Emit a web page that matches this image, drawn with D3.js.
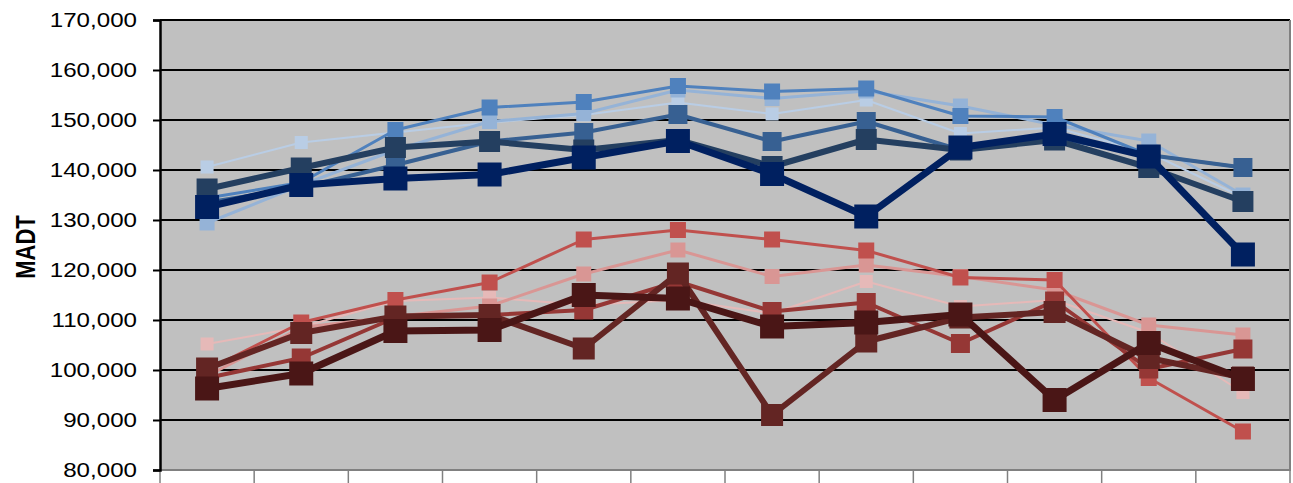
<!DOCTYPE html>
<html>
<head>
<meta charset="utf-8">
<script src="https://cdn.jsdelivr.net/npm/d3@7"></script>
<style>
  body { margin: 0; background: #fff; }
  svg { display: block; }
</style>
</head>
<body>
<div id="chart"></div>
<script>
// Categories and values
const months = ["Jan", "Feb", "Mar", "Apr", "May", "Jun", "Jul", "Aug", "Sep", "Oct", "Nov", "Dec"];
const yTicks = [80000, 90000, 100000, 110000, 120000, 130000, 140000, 150000, 160000, 170000];

const blue1 = [140600, 145500, 147500, 149500, 151000, 153500, 151200, 154000, 147300, 148500, 143500, 134500];
const blue2 = [129400, 137000, 144000, 149700, 151300, 156000, 154300, 155800, 152800, 149000, 145800, 135000];
const blue3 = [134400, 137500, 148000, 152500, 153600, 156800, 155700, 156300, 150800, 150600, 143000, 140500];
const blue4 = [133500, 136500, 141000, 145700, 147500, 151100, 145700, 149700, 144000, 146500, 143000, 140500];
const blue5 = [136200, 140400, 144500, 145700, 144000, 146000, 140700, 146100, 144000, 146000, 140500, 133700];
const blue6 = [132600, 137000, 138300, 139100, 142500, 145800, 139200, 130700, 144500, 147200, 142700, 123100];

const red1 = [105200, 108600, 113800, 114500, 113000, 114000, 111300, 117700, 112700, 114000, 107500, 95500];
const red2 = [98800, 108500, 110700, 112800, 119200, 124000, 118700, 121000, 118700, 116000, 109000, 107000];
const red3 = [100000, 109500, 114000, 117500, 126100, 128000, 126100, 123900, 118500, 118000, 98400, 87700];
const red4 = [98400, 102400, 110500, 111000, 112000, 117700, 111700, 113500, 105300, 113800, 100200, 104200];
const red5 = [100300, 107400, 110700, 111000, 104300, 119300, 91000, 105700, 110500, 111600, 102400, 98500];
const red6 = [96300, 99300, 107800, 108000, 115000, 114300, 108700, 109500, 111100, 94000, 105400, 98200];

// drawing order: light to dark, dark ones on top
const series = [
  { values: blue1, color: "#b9cde5", lw: 2, ms: 13 },
  { values: blue2, color: "#95b3d7", lw: 3, ms: 15 },
  { values: blue3, color: "#4f81bd", lw: 3, ms: 16 },
  { values: blue4, color: "#376092", lw: 4, ms: 19 },
  { values: blue5, color: "#243f60", lw: 6, ms: 21 },
  { values: blue6, color: "#002060", lw: 7, ms: 24 },
  { values: red1, color: "#e6b9b8", lw: 2, ms: 13 },
  { values: red2, color: "#d99694", lw: 3, ms: 15 },
  { values: red3, color: "#c0504d", lw: 3, ms: 16 },
  { values: red4, color: "#953735", lw: 4, ms: 19 },
  { values: red5, color: "#632523", lw: 6, ms: 22 },
  { values: red6, color: "#4a1616", lw: 7, ms: 24 }
];

const margin = { top: 20, right: 3, bottom: 13, left: 160 },
      width = 1293 - margin.left - margin.right,
      height = 483 - margin.top - margin.bottom;

const svg = d3.select("#chart")
  .append("svg")
    .attr("width", 1293)
    .attr("height", 483)
  .append("g")
    .attr("transform", `translate(${margin.left},${margin.top})`);

const x = d3.scaleBand()
  .domain(months)
  .range([0, width])
  .padding(0);

const y = d3.scaleLinear()
  .domain([80000, 170000])
  .range([height, 0]);

// plot background
svg.append("rect")
  .attr("width", width)
  .attr("height", height)
  .attr("fill", "#c0c0c0");

// gridlines
svg.append("g")
  .selectAll("line")
  .data(yTicks)
  .join("line")
    .attr("x1", 0)
    .attr("x2", width)
    .attr("y1", d => y(d))
    .attr("y2", d => y(d))
    .attr("stroke", "#000")
    .attr("stroke-width", 2);

// right and bottom border of the plot area
svg.append("path")
  .attr("d", `M${width},0V${height}H0`)
  .attr("fill", "none")
  .attr("stroke", "#808080")
  .attr("stroke-width", 2);

// category dividers below the plot (the labels themselves are cut off in the picture)
const xAxis = svg.append("g")
  .attr("transform", `translate(0,${height})`);
xAxis.selectAll("line")
  .data(months.concat(["end"]))
  .join("line")
    .attr("x1", (d, i) => i < months.length ? x(d) : width)
    .attr("x2", (d, i) => i < months.length ? x(d) : width)
    .attr("y1", 0)
    .attr("y2", 20)
    .attr("stroke", "#808080")
    .attr("stroke-width", 1.5);

// Y axis
const yAxis = svg.append("g")
  .call(d3.axisLeft(y).tickValues(yTicks).tickSize(7).tickFormat(d3.format(",")));
yAxis.select(".domain")
  .attr("stroke", "#000")
  .attr("stroke-width", 2.5);
yAxis.selectAll(".tick line")
  .attr("stroke", "#000")
  .attr("stroke-width", 2);
yAxis.selectAll(".tick text")
  .attr("x", -23 / 1.15)
  .attr("transform", "scale(1.15,1)")
  .attr("fill", "#000")
  .style("font-family", "'Liberation Sans', Arial, sans-serif")
  .style("font-size", "21px");

svg.append("text")
  .attr("transform", `translate(${25 - margin.left},${247 - margin.top}) scale(1.25,1) rotate(-90)`)
  .attr("text-anchor", "middle")
  .attr("dy", "0.36em")
  .style("font-family", "'Liberation Sans', Arial, sans-serif")
  .style("font-size", "22px")
  .style("font-weight", "bold")
  .text("MADT");

// lines and markers
const line = d3.line()
  .x((d, i) => x(months[i]) + x.bandwidth() / 2)
  .y(d => y(d));

series.forEach(s => {
  const g = svg.append("g");
  g.append("path")
    .datum(s.values)
    .attr("d", line)
    .attr("fill", "none")
    .attr("stroke", s.color)
    .attr("stroke-width", s.lw)
    .attr("stroke-linejoin", "round");
  g.selectAll("rect")
    .data(s.values)
    .join("rect")
      .attr("x", (d, i) => x(months[i]) + x.bandwidth() / 2 - s.ms / 2)
      .attr("y", d => y(d) - s.ms / 2)
      .attr("width", s.ms)
      .attr("height", s.ms)
      .attr("fill", s.color);
});
</script>
</body>
</html>
